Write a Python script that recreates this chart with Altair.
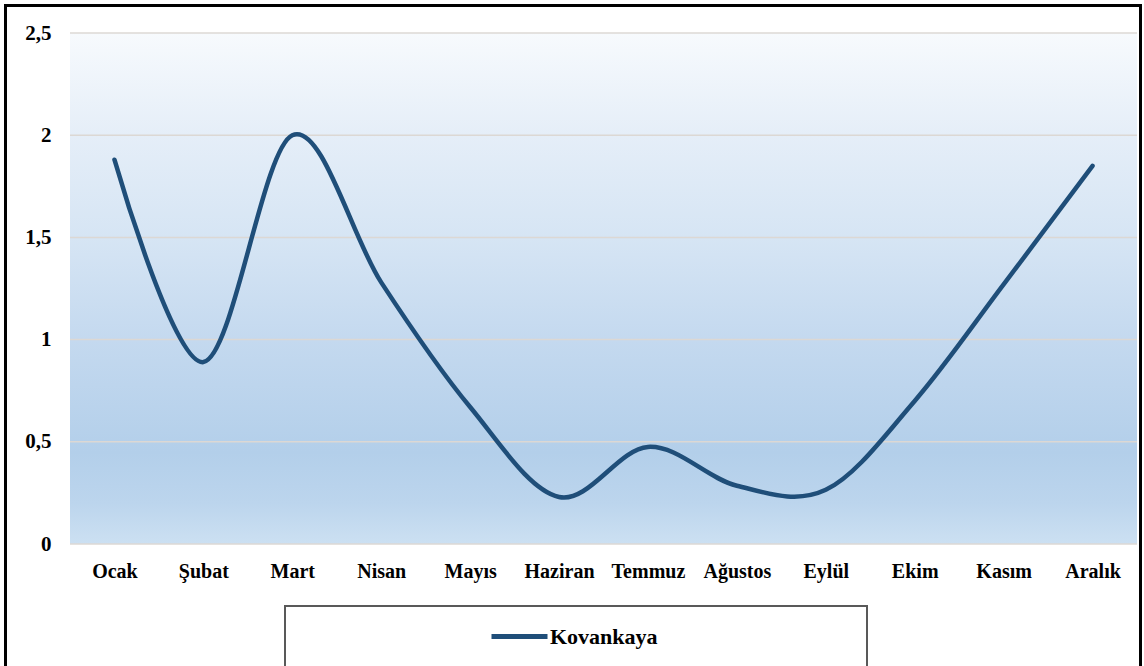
import altair as alt
import pandas as pd

# Monthly series for Kovankaya
months = ["Ocak", "Şubat", "Mart", "Nisan", "Mayıs", "Haziran",
          "Temmuz", "Ağustos", "Eylül", "Ekim", "Kasım", "Aralık"]
values = [1.88, 0.89, 2.00, 1.28, 0.67, 0.23, 0.475, 0.285, 0.265, 0.70, 1.27, 1.85]
series_name = "Kovankaya"
y_ticks = [0, 0.5, 1, 1.5, 2, 2.5]

df = pd.DataFrame({"Ay": months, "Deger": values, "Seri": [series_name] * len(months)})
grid_df = pd.DataFrame({"Deger": y_ticks})

W, H = 1067, 511
FONT = "Liberation Serif"
y_scale = alt.Scale(domain=[0, 2.5], nice=False, zero=True)
y_axis = alt.Axis(title=None, values=y_ticks, ticks=False, domain=False, grid=False,
                  labelExpr="replace(format(datum.value, ''), '.', ',')",
                  labelFont=FONT, labelFontSize=21, labelFontWeight="bold",
                  labelColor="#000000", labelPadding=19)

# Plot-area background: vertical gradient, pale at the top, deepest blue near 0,5
bg = alt.Chart(pd.DataFrame({"k": [0]})).mark_rect(
    fill=alt.LinearGradient(
        gradient="linear", x1=0, y1=0, x2=0, y2=1,
        stops=[
            alt.GradientStop(color="#f7fafd", offset=0.0),
            alt.GradientStop(color="#e5eef8", offset=0.2),
            alt.GradientStop(color="#d6e5f4", offset=0.4),
            alt.GradientStop(color="#c4d9ef", offset=0.6),
            alt.GradientStop(color="#b3cfea", offset=0.82),
            alt.GradientStop(color="#bcd5ed", offset=0.92),
            alt.GradientStop(color="#cce0f2", offset=1.0),
        ],
    )
).encode(x=alt.value(0), x2=alt.value(W), y=alt.value(0), y2=alt.value(H))

# Horizontal gridlines drawn over the gradient, under the series
grid = alt.Chart(grid_df).mark_rule(color="#dcd8d4", strokeWidth=1.5).encode(
    y=alt.Y("Deger:Q", scale=y_scale, axis=y_axis),
    x=alt.value(0), x2=alt.value(W),
)

line = alt.Chart(df).mark_line(
    interpolate="cardinal", tension=0, strokeWidth=4.5, color="#1f4e79", strokeCap="round"
).encode(
    x=alt.X("Ay:N", sort=months,
            scale=alt.Scale(type="point", padding=0.5),
            axis=alt.Axis(title=None, labelAngle=0, ticks=False, domain=False, grid=False,
                          labelFont=FONT, labelFontSize=20, labelFontWeight="bold",
                          labelColor="#000000", labelPadding=17, labelBaseline="top")),
    y=alt.Y("Deger:Q", scale=y_scale, axis=y_axis),
    stroke=alt.Stroke("Seri:N",
                      scale=alt.Scale(domain=[series_name], range=["#1f4e79"]),
                      legend=alt.Legend(title=None, orient="none", legendX=419, legendY=573,
                                        symbolType="stroke", symbolSize=3136,
                                        symbolStrokeWidth=5, labelOffset=0, padding=0,
                                        labelFont=FONT, labelFontSize=22,
                                        labelFontWeight="bold", labelColor="#000000")),
)

# Legend frame and outer chart frame
legend_box = alt.Chart(pd.DataFrame({"k": [0]})).mark_rect(
    fill="#ffffff", stroke="#595959", strokeWidth=2
).encode(x=alt.value(215), x2=alt.value(797), y=alt.value(573), y2=alt.value(760))

frame = alt.Chart(pd.DataFrame({"k": [0]})).mark_rect(
    fill=None, stroke="#000000", strokeWidth=3
).encode(x=alt.value(-64.5), x2=alt.value(1070.5), y=alt.value(-27.5), y2=alt.value(800))

chart = alt.layer(frame, legend_box, bg, grid, line).properties(
    width=W, height=H,
    autosize=alt.AutoSizeParams(type="none"),
    padding={"left": 70, "top": 33, "right": 7, "bottom": 122},
    background="#ffffff",
).configure_view(stroke=None)

chart.save("out.html", embed_options={"renderer": "svg", "actions": False})
